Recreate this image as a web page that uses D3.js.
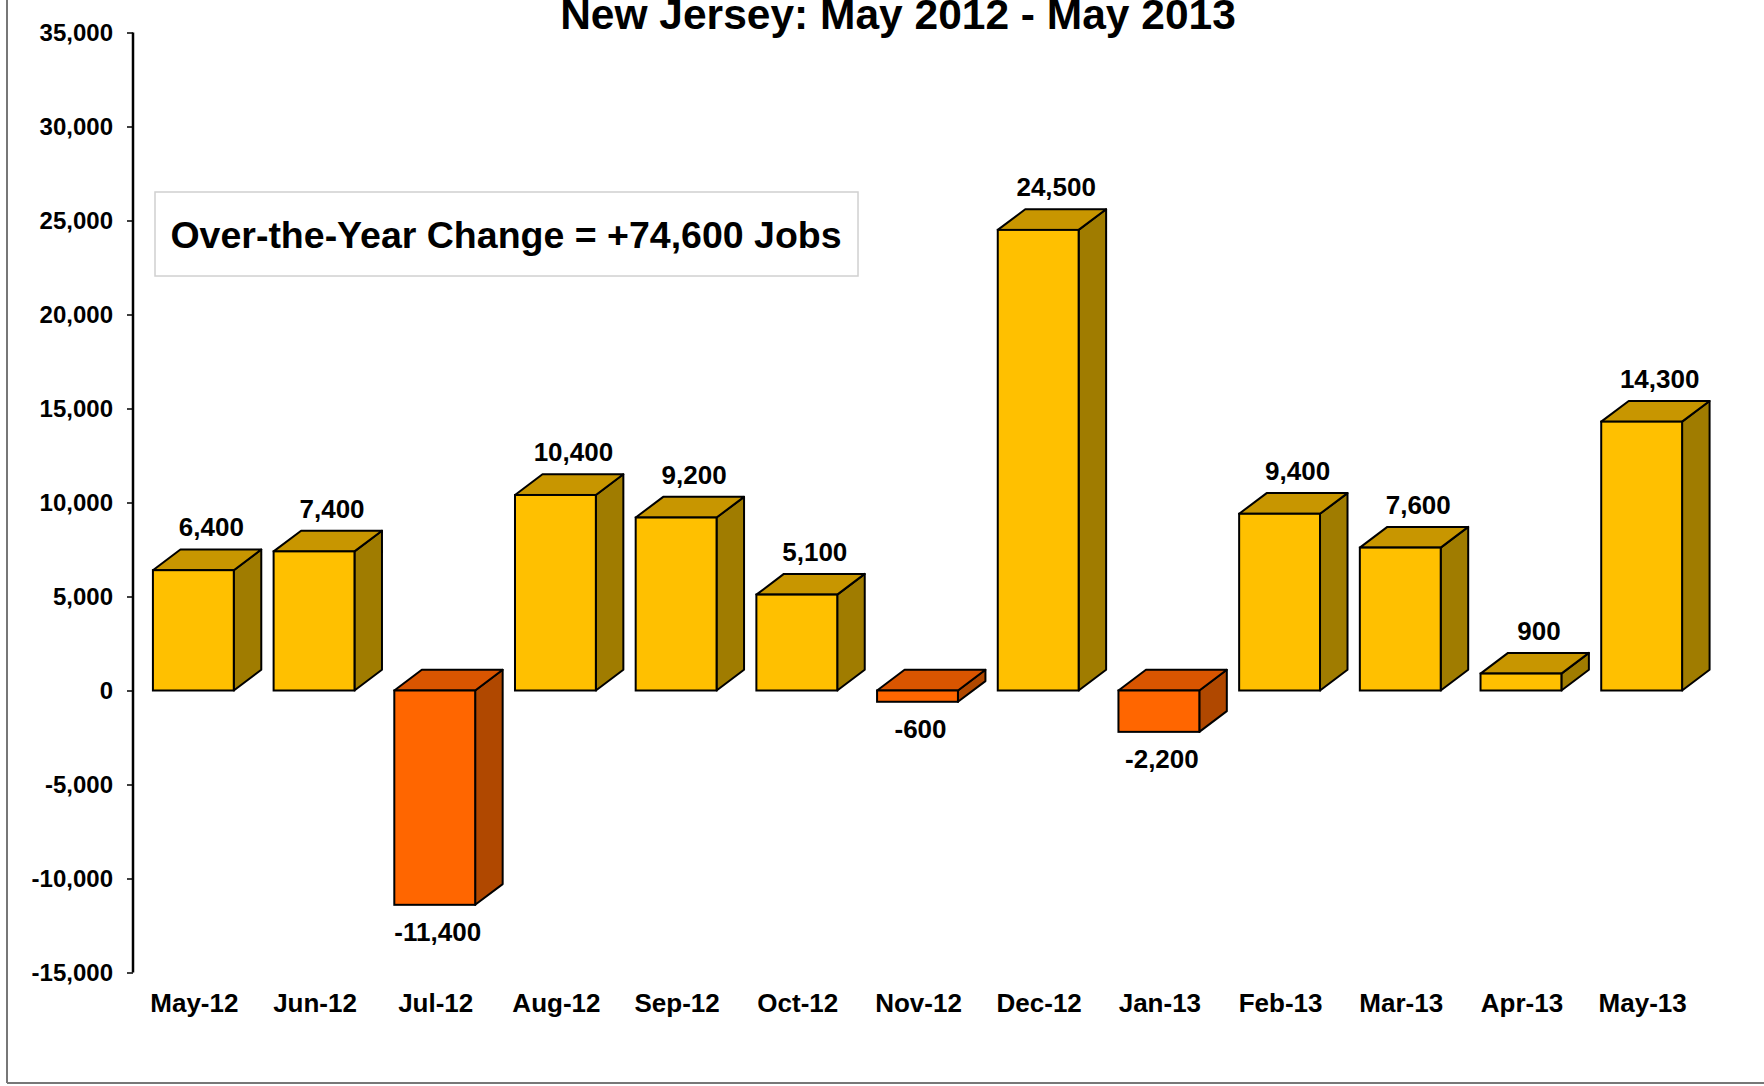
<!DOCTYPE html>
<html>
<head>
<meta charset="utf-8">
<script src="https://cdn.jsdelivr.net/npm/d3@7"></script>
<style>
  body { margin: 0; background: #fff; }
  text { font-family: "Liberation Sans", Arial, sans-serif; font-weight: bold; fill: #000; }
</style>
</head>
<body>
<div class="start"></div>
<script>
var months = ['May-12','Jun-12','Jul-12','Aug-12','Sep-12','Oct-12','Nov-12','Dec-12','Jan-13','Feb-13','Mar-13','Apr-13','May-13'];
var change = [6400, 7400, -11400, 10400, 9200, 5100, -600, 24500, -2200, 9400, 7600, 900, 14300];
var yTicks = [-15000,-10000,-5000,0,5000,10000,15000,20000,25000,30000,35000];
var title = 'New Jersey: May 2012 - May 2013';
var note = 'Over-the-Year Change = +74,600 Jobs';

var W = 1764, H = 1086;
var dx = 27.5, dy = -20.7;   // depth of the 3d boxes

var svg = d3.select('.start').append('svg')
    .attr('width', W).attr('height', H);

// frame edges of the original screenshot
svg.append('line').attr('x1', 7).attr('x2', 7).attr('y1', 0).attr('y2', 1083)
    .attr('stroke', '#777').attr('stroke-width', 2);
svg.append('line').attr('x1', 7).attr('x2', W).attr('y1', 1083).attr('y2', 1083)
    .attr('stroke', '#777').attr('stroke-width', 2);

var x = d3.scaleBand().domain(months).range([133, 1702])
    .paddingInner(0.33).paddingOuter(0.165);
var y = d3.scaleLinear().domain([-15000, 35000]).range([972.5, 32.5]);

// plain hyphen for negatives, like the original
var fmt = d3.formatLocale({ decimal: '.', thousands: ',', grouping: [3], currency: ['$', ''], minus: '-' }).format(',');

// y axis
var ax = svg.append('g').attr('transform', 'translate(133,0)')
    .call(d3.axisLeft(y).tickValues(yTicks).tickSize(6).tickPadding(14).tickFormat(fmt));
ax.select('.domain').attr('stroke', '#000').attr('stroke-width', 2.5).attr('d', 'M0,' + y(35000) + 'V' + y(-15000));
ax.selectAll('.tick line').attr('stroke', '#000').attr('stroke-width', 1.5);
ax.selectAll('.tick text').style('font-size', '24px').attr('fill', '#000')
    .style('font-family', '"Liberation Sans", Arial, sans-serif').style('font-weight', 'bold');

// title and note box
svg.append('text').attr('x', 898).attr('y', 29).attr('text-anchor', 'middle')
    .style('font-size', '42.5px').text(title);
svg.append('rect').attr('x', 155).attr('y', 192).attr('width', 703).attr('height', 84)
    .attr('fill', '#fff').attr('stroke', '#d0d0d0').attr('stroke-width', 1.5);
svg.append('text').attr('x', 506).attr('y', 248).attr('text-anchor', 'middle')
    .style('font-size', '37.5px').text(note);

var pos = { front: '#FFC000', top: '#C89600', side: '#A07C00' };
var neg = { front: '#FF6600', top: '#D95500', side: '#B04800' };

var bars = svg.append('g').selectAll('g').data(months).enter().append('g');

bars.each(function(m, i) {
  var g = d3.select(this);
  var v = change[i];
  var c = v >= 0 ? pos : neg;
  var x0 = x(m), x1 = x0 + x.bandwidth();
  var yt = y(Math.max(v, 0)), yb = y(Math.min(v, 0));
  // side face
  g.append('path')
    .attr('d', 'M' + x1 + ',' + yt + 'L' + (x1 + dx) + ',' + (yt + dy) + 'L' + (x1 + dx) + ',' + (yb + dy) + 'L' + x1 + ',' + yb + 'Z')
    .attr('fill', c.side).attr('stroke', '#000').attr('stroke-width', 2).attr('stroke-linejoin', 'round');
  // top face
  g.append('path')
    .attr('d', 'M' + x0 + ',' + yt + 'L' + (x0 + dx) + ',' + (yt + dy) + 'L' + (x1 + dx) + ',' + (yt + dy) + 'L' + x1 + ',' + yt + 'Z')
    .attr('fill', c.top).attr('stroke', '#000').attr('stroke-width', 2).attr('stroke-linejoin', 'round');
  // front face
  g.append('rect').attr('x', x0).attr('y', yt).attr('width', x.bandwidth()).attr('height', yb - yt)
    .attr('fill', c.front).attr('stroke', '#000').attr('stroke-width', 2);
  // value label
  var cx = x0 + x.bandwidth() / 2;
  g.append('text')
    .attr('x', v >= 0 ? cx + 18 : cx + 3)
    .attr('y', v >= 0 ? yt + dy - 13 : yb + 36)
    .attr('text-anchor', 'middle').style('font-size', '26px')
    .text(fmt(v));
});

// category labels
svg.append('g').selectAll('text').data(months).enter().append('text')
    .attr('x', function(d) { return x(d) + x.bandwidth() / 2 + 1; })
    .attr('y', 1012).attr('text-anchor', 'middle').style('font-size', '26px')
    .text(function(d) { return d; });
</script>
</body>
</html>
